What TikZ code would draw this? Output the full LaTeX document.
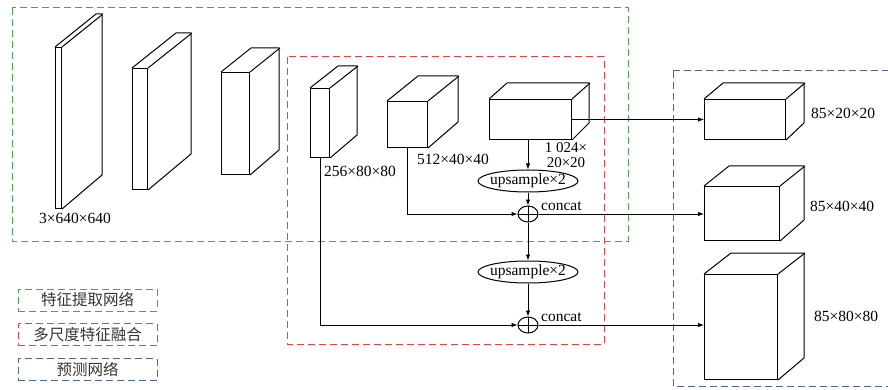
\documentclass[tikz,border=0pt]{standalone}
\usepackage{fontspec}
\setmainfont{Liberation Serif}
\newfontfamily\cjk{Noto Sans CJK SC}
\usetikzlibrary{arrows.meta,shapes.geometric}
\definecolor{dashgreen}{RGB}{75,165,75}
\definecolor{dashred}{RGB}{235,65,65}
\definecolor{dashblue}{RGB}{80,100,160}

\newcommand\drawcuboid[7]{%
  \node[draw,line width=1pt,inner sep=0pt,anchor=north west,minimum width=#4pt,minimum height=#5pt] (#1) at (#2,#3) {};
  \draw[line width=1pt,line join=round] (#1.north west) -- ++(#6,-#7) -- ++(#4,0) -- ++(0,#5) -- (#1.south east);
  \draw[line width=1pt] (#1.north east) -- ++(#6,-#7);
}

\begin{document}
\begin{tikzpicture}[x=1pt,y=-1pt,font=\fontsize{15.5}{17}\selectfont,
  arr/.style={line width=0.9pt,-{Latex[length=6pt,width=4.5pt]}},
  zone/.style={line width=1pt,dash pattern=on 7pt off 4pt},
  upbox/.style={draw,ellipse,line width=1pt,minimum width=100pt,minimum height=22pt,inner sep=0pt},
  plus/.style={draw,ellipse,line width=1pt,minimum width=20pt,minimum height=16pt,inner sep=0pt,
    path picture={\draw[line width=0.9pt] (path picture bounding box.north) -- (path picture bounding box.south)
      (path picture bounding box.west) -- (path picture bounding box.east);}},
  key/.style={line width=1pt,dash pattern=on 7pt off 4pt,minimum width=139pt,minimum height=22pt,inner sep=0pt,
    text=black!80,font=\fontsize{15.5}{17}\selectfont\cjk}]
  \clip (0,0) rectangle (888,390);

  \draw[zone,dashgreen] (12,8) rectangle (628,241);
  \draw[zone,dashred] (287,57) rectangle (604,344);
  \draw[zone,dashblue] (673,71) rectangle (895,386);

  \drawcuboid{in640}{55}{47}{6}{161}{41}{33}
  \drawcuboid{b2}{132}{68}{15}{121}{44}{35}
  \drawcuboid{b3}{221}{72}{28}{102}{30}{24}
  \drawcuboid{f80}{310}{88}{19}{69}{28}{22}
  \drawcuboid{f40}{387}{101}{40}{46}{31}{25}
  \drawcuboid{f20}{489}{99}{82}{40}{18}{16}
  \drawcuboid{p20}{704}{99}{81}{40}{19}{16}
  \drawcuboid{p40}{704}{186}{75}{54}{25}{20}
  \drawcuboid{p80}{704}{274}{73}{105}{27}{21}

  \node (l640) at (75,218) {3×640×640};
  \node (l80) at (360,171) {256×80×80};
  \node (l40) at (453,159) {512×40×40};
  \node[align=center,inner sep=0pt,font=\fontsize{15}{15.5}\selectfont] (l20) at (566,155) {1 024×\\20×20};
  \node (lp20) at (843,113) {85×20×20};
  \node (lp40) at (842,206) {85×40×40};
  \node (lp80) at (846,316) {85×80×80};

  \node[upbox,label={[inner sep=0pt]center:upsample×2}] (up1) at (528,181) {};
  \node[plus] (plus1) at (528,214) {};
  \node[upbox,label={[inner sep=0pt]center:upsample×2}] (up2) at (528,272) {};
  \node[plus] (plus2) at (528,325) {};
  \node[anchor=base west,inner sep=0pt] (cat1) at (541,210) {concat};
  \node[anchor=base west,inner sep=0pt] (cat2) at (541,321) {concat};

  \draw[arr] (up1.north |- f20.south) -- (up1.north);
  \draw[arr] (up1.south) -- (plus1.north);
  \draw[arr] (f40.south) |- (plus1.west);
  \draw[arr] (plus1.south) -- (up2.north);
  \draw[arr] (up2.south) -- (plus2.north);
  \draw[arr] (f80.south) |- (plus2.west);
  \draw[arr] (f20.east) -- (f20.east -| p20.west);
  \draw[arr] (plus1.east) -- (plus1.east -| p40.west);
  \draw[arr] (plus2.east) -- (plus2.east -| p80.west);

  \node[key,draw=dashgreen] (kfeat) at (87.5,300) {特征提取网络};
  \node[key,draw=dashred] (kfuse) at (87.5,334.5) {多尺度特征融合};
  \node[key,draw=dashblue] (kpred) at (87.5,369.5) {预测网络};
\end{tikzpicture}
\end{document}
